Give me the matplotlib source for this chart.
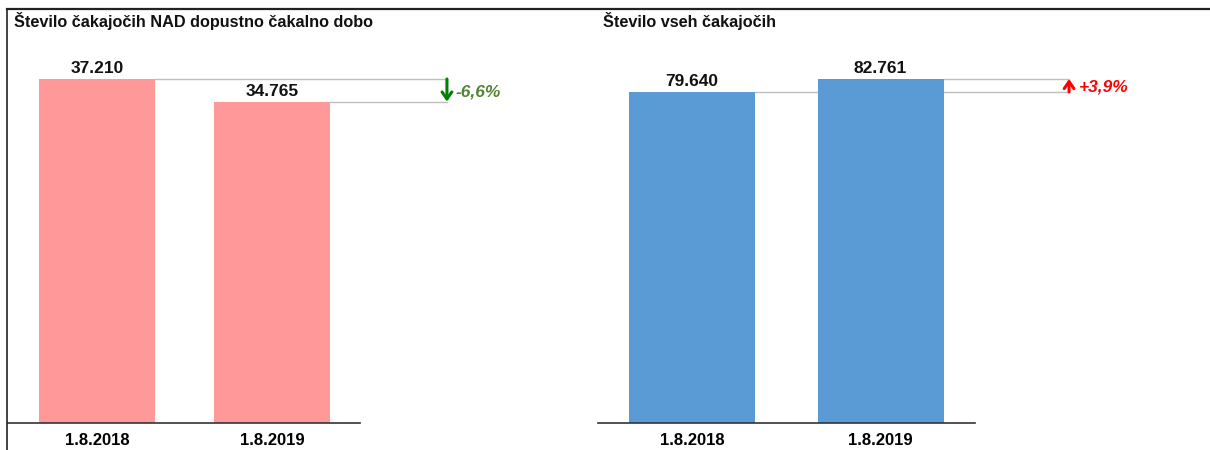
import matplotlib.pyplot as plt
from matplotlib.lines import Line2D

plt.rcParams['font.family'] = ['Liberation Sans', 'DejaVu Sans']

# data
categories = ['1.8.2018', '1.8.2019']
over_limit = [37210, 34765]
all_waiting = [79640, 82761]
title_left = 'Število čakajočih NAD dopustno čakalno dobo'
title_right = 'Število vseh čakajočih'


def fmt(v):
    return '{:,}'.format(v).replace(',', '.')


def pct(a, b):
    p = (b - a) / a * 100
    return '{:+.1f}%'.format(p).replace('.', ',')


fig = plt.figure(figsize=(12.10, 4.50), dpi=100)

# frame lines of the picture
fig.add_artist(Line2D([7 / 1210, 1], [1 - 8.5 / 450, 1 - 8.5 / 450], color='#222222', lw=1.6))
fig.add_artist(Line2D([7 / 1210, 7 / 1210], [0, 1 - 8.5 / 450], color='#222222', lw=1.2))


def panel(rect, values, color, width, ymax, title, title_x, txt_color, arr_color):
    ax = fig.add_axes(rect)
    x = list(range(len(values)))
    ax.bar(x, values, width=width, color=color, zorder=2)
    ax.set_ylim(0, ymax)
    ax.set_xlim(-0.5, 1.5)
    for s in ['top', 'right', 'left']:
        ax.spines[s].set_visible(False)
    ax.spines['bottom'].set_color('#333333')
    ax.spines['bottom'].set_linewidth(1.2)
    ax.set_yticks([])
    ax.set_xticks(x)
    ax.set_xticklabels(categories, fontsize=12, fontweight='bold')
    ax.tick_params(axis='x', length=0, pad=7)
    for xi, v in zip(x, values):
        ax.text(xi, v + ymax * 0.007, fmt(v), ha='center', va='bottom',
                fontsize=12.5, fontweight='bold', color='#111111')
    # reference lines from bar edges to arrow
    xa = 2.0
    for xi, v in zip(x, values):
        ax.plot([xi + width / 2, xa], [v, v], color='#bfbfbf', lw=1, clip_on=False, zorder=1)
    ax.annotate('', xy=(xa, values[1]), xytext=(xa, values[0]),
                arrowprops=dict(arrowstyle='->,head_width=0.35,head_length=0.5',
                                color=arr_color, lw=2.2, shrinkA=0, shrinkB=0),
                annotation_clip=False)
    ax.text(xa + 0.05, (values[0] + values[1]) / 2 - ymax * 0.004, pct(values[0], values[1]),
            ha='left', va='center', fontsize=12.5, fontweight='bold', style='italic',
            color=txt_color, clip_on=False)
    fig.text(title_x, 1 - 21 / 450, title, ha='left', va='center',
             fontsize=11.7, fontweight='bold', color='#111111')
    return ax


bottom = (450 - 423) / 450
height = 403 / 450

ax1 = panel([8 / 1210, bottom, 352 / 1210, height], over_limit, '#ff9999', 0.663,
            37210 * 403 / 344, title_left, 14 / 1210, '#548235', '#008000')
ax1.set_xlim(-0.509, 1.503)

ax2 = panel([598 / 1210, bottom, 377 / 1210, height], all_waiting, '#5b9bd5', 0.668,
            82761 * 403 / 344, title_right, 603 / 1210, '#ff0000', '#ff0000')
ax2.set_xlim(-0.499, 1.501)

fig.savefig('out.png', dpi=100)
